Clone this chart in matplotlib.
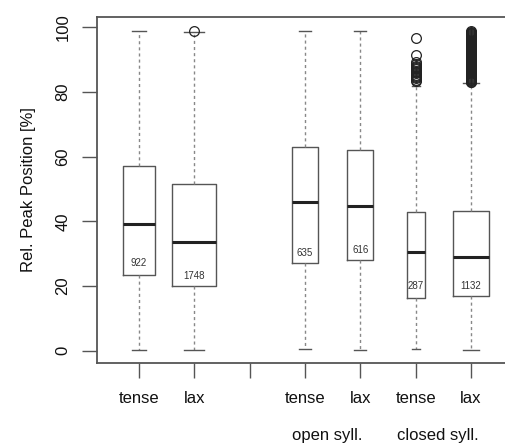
import matplotlib.pyplot as plt
import numpy as np

plt.rcParams['font.family'] = ['Liberation Sans', 'DejaVu Sans']

# box positions (3 is an empty separator tick)
positions = [1, 2, 4, 5, 6, 7]
tick_labels = ["tense", "lax", "tense", "lax", "tense", "lax"]
group_labels = ["open syll.", "closed syll."]
counts = [922, 1748, 635, 616, 287, 1132]

q1 = [23.5, 20.0, 27.0, 27.9, 16.4, 16.8]
med = [39.2, 33.7, 45.9, 44.7, 30.4, 29.0]
q3 = [57.1, 51.6, 63.1, 62.0, 42.9, 43.2]
whislo = [0.3, 0.1, 0.4, 0.2, 0.6, 0.2]
whishi = [98.8, 98.6, 98.8, 98.8, 81.9, 82.7]
count_label_y = [27.1, 23.1, 30.2, 31.1, 20.0, 20.0]

fliers = [
    [],
    [99.0],
    [],
    [],
    [96.6, 91.6, 89.4, 88.6, 88.2, 87.8, 87.4, 87.0, 86.6, 86.2, 85.8, 85.4,
     85.0, 84.6, 84.2, 83.8, 83.4],
    [83.0, 83.2, 83.4, 83.6, 83.8, 84.0, 84.3, 84.6, 84.9, 85.2, 85.5, 85.8,
     86.1, 86.4, 86.7, 87.0, 87.3, 87.6, 87.9, 88.2, 88.5, 88.8, 89.1, 89.4,
     89.7, 90.0, 90.3, 90.6, 90.9, 91.2, 91.5, 91.8, 92.1, 92.4, 92.7, 93.0,
     93.3, 93.6, 93.9, 94.2, 94.5, 94.8, 95.1, 95.4, 95.7, 96.0, 96.3, 96.6,
     96.9, 97.2, 97.5, 97.8, 98.1, 98.4, 98.7, 99.0],
]

GREY = '#555555'

fig = plt.figure(figsize=(5.05, 4.46), dpi=100)
ax = fig.add_axes([97/505, (446-363)/446, 416/505, 346/446])

stats = []
for i in range(len(positions)):
    stats.append(dict(med=med[i], q1=q1[i], q3=q3[i], whislo=whislo[i],
                      whishi=whishi[i], fliers=fliers[i]))

nmax = max(counts)
widths = [0.8*np.sqrt(n/nmax) for n in counts]

ax.bxp(stats, positions=positions, widths=widths,
       capwidths=[0.45*w for w in widths],
       showfliers=True,
       boxprops=dict(color=GREY, linewidth=1.0),
       medianprops=dict(color='#222222', linewidth=2.2),
       whiskerprops=dict(color='#888888', linewidth=1.0, linestyle=(0, (2.2, 2.2))),
       capprops=dict(color=GREY, linewidth=1.0),
       flierprops=dict(marker='o', markersize=7, markerfacecolor='none',
                       markeredgecolor='#222222', markeredgewidth=0.9))

for p, n, y in zip(positions, counts, count_label_y):
    ax.text(p, y, str(n), ha='center', va='center', fontsize=7, color='#333333')

ax.set_xlim(0.24, 7.76)
ax.set_ylim(-3.8, 103.2)

ax.set_xticks([1, 2, 3, 4, 5, 6, 7])
ax.set_xticklabels(["tense", "lax", "", "tense", "lax", "tense", "lax"], fontsize=12)
ax.set_yticks([0, 20, 40, 60, 80, 100])
ax.set_yticklabels(["0", "20", "40", "60", "80", "100"], fontsize=12,
                   rotation=90, va='center')
ax.tick_params(axis='both', direction='out', length=11, width=1.0,
               color=GREY, labelcolor='#111111')
ax.tick_params(axis='x', pad=9)
ax.tick_params(axis='y', pad=8)

for s in ax.spines.values():
    s.set_color(GREY)
    s.set_linewidth(1.3)

ax.set_ylabel("Rel. Peak Position [%]", fontsize=12, color='#111111', labelpad=14)

for x, lab in zip([4.4, 6.4], group_labels):
    ax.text(x, -0.21, lab, transform=ax.get_xaxis_transform(), ha='center',
            va='center', fontsize=12, color='#111111')

fig.savefig("out.png", dpi=100)
